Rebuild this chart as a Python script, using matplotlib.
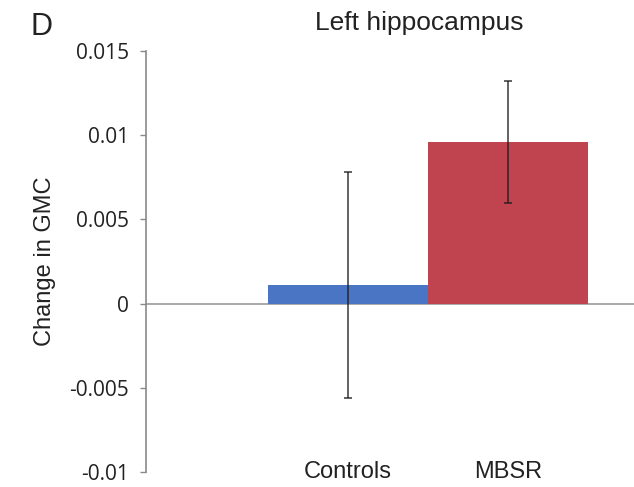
import matplotlib.pyplot as plt

groups = ["Controls", "MBSR"]
change = [0.0011, 0.0096]
err = [0.0067, 0.0036]
colors = ["#4a74c4", "#c0444f"]

fig = plt.figure(figsize=(6.34, 4.87), dpi=100)
ax = fig.add_axes([0.2303, 0.0308, 0.7697, 0.8645])

x = list(range(len(groups)))
ax.bar(x, change, width=1.0, color=colors, zorder=2)
ax.errorbar(x, change, yerr=err, fmt="none", ecolor="#1a1a1a", alpha=0.8,
            elinewidth=1.2, capsize=3, capthick=1.2, zorder=3)
ax.axhline(0, color="#9a9a9a", lw=1.2, zorder=1)

ax.set_xlim(-1.2625, 1.7875)
ax.set_ylim(-0.01, 0.015)
ax.set_yticks([-0.01, -0.005, 0, 0.005, 0.01, 0.015])
ax.set_yticklabels(["-0.01", "-0.005", "0", "0.005", "0.01", "0.015"],
                   fontfamily="Open Sans", fontsize=15, color="#222222")
ax.set_xticks(x)
ax.set_xticklabels(groups, fontfamily="Liberation Sans", fontsize=17, color="#222222")
ax.tick_params(axis="x", length=0, pad=-8)
ax.tick_params(axis="y", length=4.5, width=1, color="#8a8a8a", pad=8)

for s in ["top", "right", "bottom"]:
    ax.spines[s].set_visible(False)
ax.spines["left"].set_color("#8a8a8a")
ax.spines["left"].set_linewidth(1.2)

ax.set_ylabel("Change in GMC", fontfamily="Liberation Sans", fontsize=17, color="#222222")
ax.yaxis.set_label_coords(-0.185, 0.5)

fig.text(0.662, 0.953, "Left hippocampus", ha="center", va="center",
         fontfamily="Liberation Sans", fontsize=19, color="#222222")
fig.text(0.065, 0.945, "D", ha="center", va="center",
         fontfamily="Liberation Sans", fontsize=22, color="#222222")

fig.savefig("out.png", dpi=100)
